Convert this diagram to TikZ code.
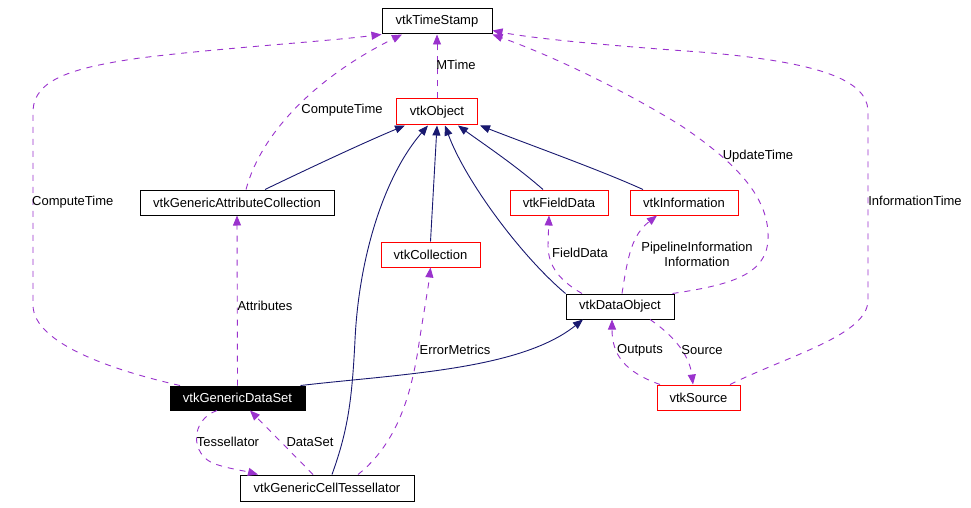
\documentclass[tikz,border=0pt]{standalone}
\usepackage{fontspec}
\setmainfont{Liberation Sans}
\usetikzlibrary{arrows.meta}
\definecolor{navy}{RGB}{25,25,112}
\definecolor{orchid}{RGB}{154,50,205}
\begin{document}
\begin{tikzpicture}[x=1pt,y=-1pt,
  every node/.style={font=\fontsize{13}{15}\selectfont},
  box/.style={draw=black, line width=1pt, inner sep=0pt, minimum height=25pt},
  redbox/.style={box, draw=red},
  lbl/.style={inner sep=0pt, align=center},
  inh/.style={draw=navy, line width=0.9pt, -{Triangle[length=10pt,width=8pt]}},
  use/.style={draw=orchid, line width=0.9pt, dash pattern=on 6pt off 6pt, -{Triangle[length=10pt,width=8pt]}}
]
\fill[white] (0,0) rectangle (971,508);
\useasboundingbox (0,0) rectangle (971,508);

% nodes
\node[box, minimum width=110pt] (ts) at (437,21.5) {vtkTimeStamp};
\node[redbox, minimum width=81pt, minimum height=26pt] (obj) at (437,112) {vtkObject};
\node[box, minimum width=194pt] (gac) at (237,202.5) {vtkGenericAttributeCollection};
\node[redbox, minimum width=98pt] (fd) at (559,202.5) {vtkFieldData};
\node[redbox, minimum width=108pt] (info) at (684,202.5) {vtkInformation};
\node[redbox, minimum width=99pt] (coll) at (430.5,254.5) {vtkCollection};
\node[box, minimum width=108pt] (dobj) at (620,306.5) {vtkDataObject};
\node[box, fill=black, text=white, minimum width=135pt, minimum height=24pt] (gds) at (237.5,398) {vtkGenericDataSet};
\node[redbox, minimum width=83pt] (src) at (698.5,397.5) {vtkSource};
\node[box, minimum width=174pt, minimum height=26pt] (gct) at (327,488) {vtkGenericCellTessellator};

% inheritance edges
\draw[inh] ([xshift=28pt]gac.north) .. controls (320,163) and (370,140) .. ([xshift=-32pt]obj.south);
\draw[inh] ([xshift=5pt]gct.north) .. controls (348,430) and (352,400) .. (355,340)
   .. controls (359,255) and (385,175) .. ([xshift=-9pt]obj.south);
\draw[inh] (coll.north) -- (obj.south);
\draw[inh] (dobj.north west) .. controls (520,255) and (465,180) .. ([xshift=8pt]obj.south);
\draw[inh] ([xshift=-16pt]fd.north) .. controls (515,165) and (485,145) .. ([xshift=21pt]obj.south);
\draw[inh] ([xshift=-41pt]info.north) .. controls (600,170) and (530,145) .. ([xshift=43pt]obj.south);
\draw[inh] ([xshift=-5pt]gds.north east) .. controls (400,374) and (520,370) .. ([xshift=-37pt]dobj.south);

% usage edges
\draw[use] ([xshift=-57.5pt]gds.north) .. controls (120,372) and (33,345) .. (33,305)
   -- (33,110) .. controls (35,80) and (70,68) .. (140,58)
   .. controls (220,48) and (320,42) .. (ts.south west);
\draw[use] ([xshift=9pt]gac.north) .. controls (262,130) and (320,75) .. ([xshift=-35pt]ts.south);
\draw[use] (obj.north) -- (ts.south);
\draw[use] ([xshift=-2pt]dobj.north east) .. controls (730,285) and (766,275) .. (768,240)
   .. controls (770,200) and (740,165) .. (680,125)
   .. controls (620,88) and (550,55) .. (ts.south east);
\draw[use] ([xshift=31.5pt]src.north) .. controls (790,355) and (868,335) .. (868,300)
   -- (868,110) .. controls (866,80) and (820,62) .. (700,52)
   .. controls (600,45) and (530,38) .. ([yshift=4pt]ts.south east);
\draw[use] (gds.north) -- (gac.south);
\draw[use] ([xshift=31pt]gct.north) .. controls (395,445) and (410,400) .. (418,350)
   .. controls (424,310) and (428,290) .. (coll.south);
\draw[use] ([xshift=-38pt]dobj.north) .. controls (555,278) and (548,262) .. (548,245)
   -- ([xshift=-10pt]fd.south);
\draw[use] ([xshift=2pt]dobj.north) .. controls (628,255) and (632,235) .. ([xshift=-27pt]info.south);
\draw[use] ([xshift=30pt]dobj.south) .. controls (680,340) and (690,360) .. ([xshift=-5.5pt]src.north);
\draw[use] ([xshift=-38.5pt]src.north) .. controls (625,372) and (612,355) .. ([xshift=-8pt]dobj.south);
\draw[use] ([xshift=-20.5pt]gds.south) .. controls (190,420) and (190,455) .. (215,464)
   .. controls (230,469) and (245,471) .. ([xshift=-69pt]gct.north);
\draw[use] ([xshift=-14pt]gct.north) -- ([xshift=12.5pt]gds.south);

% labels
\node[lbl, anchor=west] (l1) at (32,202) {ComputeTime};
\node[lbl] (l2) at (342,110) {ComputeTime};
\node[lbl] (l3) at (456,65) {MTime};
\node[lbl] (l4) at (758,156) {UpdateTime};
\node[lbl] (l5) at (915,201) {InformationTime};
\node[lbl] (l6) at (265,306) {Attributes};
\node[lbl] (l7) at (455,350) {ErrorMetrics};
\node[lbl] (l8) at (228,442) {Tessellator};
\node[lbl] (l9) at (310,442) {DataSet};
\node[lbl] (l10) at (580,253) {FieldData};
\node[lbl] (l11) at (697,254) {PipelineInformation\\Information};
\node[lbl] (l12) at (640,350) {Outputs};
\node[lbl] (l13) at (702,350) {Source};
\end{tikzpicture}
\end{document}
